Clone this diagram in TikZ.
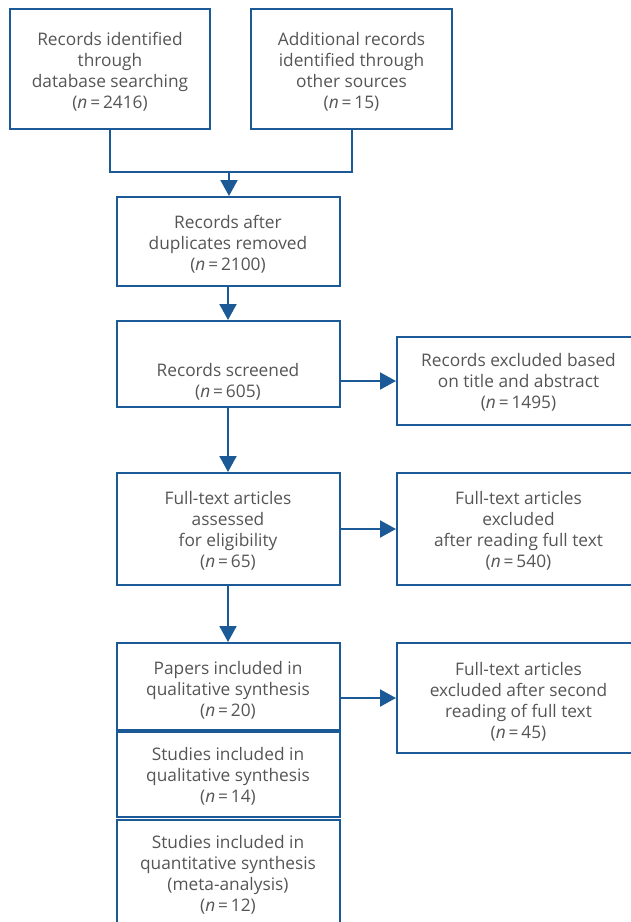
\documentclass[tikz,border=0pt]{standalone}
\usepackage{fontspec}
\setmainfont{Open Sans}
\usepackage{xcolor}
\usetikzlibrary{arrows.meta, positioning}
\definecolor{boxblue}{HTML}{1B5A96}
\definecolor{textgrey}{HTML}{555555}
\newcommand{\ncount}[1]{(\textit{n}\,=\,#1)}
% text lines, lowered inside their box
\newcommand{\droptext}[2]{\raisebox{-#1}[\height][\depth]{%
    \begin{tabular}{@{}c@{}}#2\end{tabular}}}

\begin{document}
\begin{tikzpicture}[
    x=1pt, y=-1pt,
    every node/.style={font=\fontsize{17.3}{21}\selectfont, text=textgrey},
    box/.style={rectangle, draw=boxblue, line width=2pt, inner sep=0pt},
    link/.style={line width=2pt, draw=boxblue},
    arrow/.style={-{Triangle[length=16pt, width=17pt]}, line width=2pt,
                  draw=boxblue}
]
\useasboundingbox (0,0) rectangle (631,922);

% Identification
\node[box, minimum width=200pt, minimum height=120pt] (search) at (110,69)
    {\droptext{4pt}{Records identified\\through\\database searching\\\ncount{2416}}};
\node[box, minimum width=201pt, minimum height=120pt] (other) at (351.5,69)
    {\droptext{4pt}{Additional records\\identified through\\other sources\\\ncount{15}}};
\coordinate (join) at (229,172);

% Screening
\node[box, minimum width=223pt, minimum height=89pt] (dupl) at (228,241.5)
    {\droptext{4pt}{Records after\\duplicates removed\\\ncount{2100}}};
\node[box, minimum width=223pt, minimum height=86pt] (screen) at (228,364)
    {\droptext{18.5pt}{Records screened\\\ncount{605}}};
\node[box, minimum width=243pt, minimum height=88pt] (exclTA) at (518.5,381)
    {\droptext{2.5pt}{Records excluded based\\on title and abstract\\\ncount{1495}}};

% Eligibility
\node[box, minimum width=223pt, minimum height=112pt] (fulltext) at (228,529)
    {\droptext{2.5pt}{Full-text articles\\assessed\\for eligibility\\\ncount{65}}};
\node[box, minimum width=243pt, minimum height=112pt] (exclFT) at (518.5,529)
    {\droptext{2.5pt}{Full-text articles\\excluded\\after reading full text\\\ncount{540}}};

% Included
\node[box, minimum width=223pt, minimum height=87pt] (papers) at (228,686.5)
    {\droptext{5pt}{Papers included in\\qualitative synthesis\\\ncount{20}}};
\node[box, minimum width=223pt, minimum height=85pt] (qual) at (228,774.5)
    {\droptext{2.5pt}{Studies included in\\qualitative synthesis\\\ncount{14}}};
\node[box, minimum width=223pt, minimum height=112pt] (quant) at (228,876)
    {\droptext{0pt}{Studies included in\\quantitative synthesis\\(meta-analysis)\\\ncount{12}}};
\node[box, minimum width=243pt, minimum height=110pt] (exclSR) at (518.5,698)
    {\droptext{5pt}{Full-text articles\\excluded after second\\reading of full text\\\ncount{45}}};

% Arrows
\draw[link] (search.south) |- (join) -| (other.south);
\draw[arrow] (join) -- (join |- dupl.north);
\draw[arrow] (dupl) -- (screen);
\draw[arrow] (screen.east |- exclTA) -- (exclTA.west);
\draw[arrow] (screen) -- (fulltext);
\draw[arrow] (fulltext) -- (exclFT);
\draw[arrow] (fulltext) -- (papers);
\draw[arrow] (papers.east |- exclSR) -- (exclSR.west);

\end{tikzpicture}
\end{document}
